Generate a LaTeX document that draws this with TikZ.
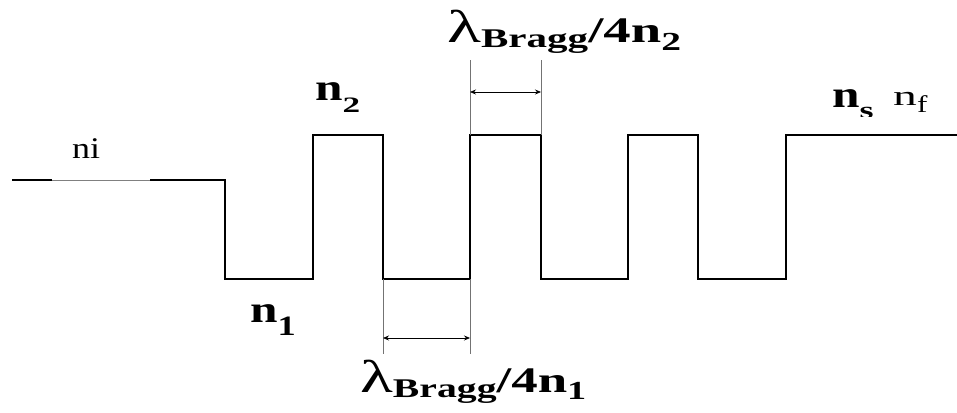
\documentclass[tikz,border=0pt]{standalone}
\usepackage{fontspec}
\usepackage{graphicx}
\setmainfont{Liberation Serif}
\usetikzlibrary{arrows.meta,positioning}

% wide letters of the original
\newcommand\sx[2]{\scalebox{#1}[1]{#2}}

\begin{document}
\begin{tikzpicture}[
  x=1pt,y=-1pt,
  profile/.style={line width=2.6pt, line join=miter, black},
  guide/.style={black!55, line width=0.8pt},
  dim/.style={{Stealth[length=6pt,width=5pt]}-{Stealth[length=6pt,width=5pt]}, line width=0.7pt},
  lbl/.style={anchor=base west, inner sep=0pt},
]
\useasboundingbox (0,0) rectangle (957,412);

% ---------------- index levels ----------------
\def\yi{180}   % incident medium
\def\yl{279}   % low index n1
\def\yh{135}   % high index n2

% ---------------- profile corners ----------------
\coordinate (a0) at (12,\yi);
\coordinate (g1) at (52,\yi);
\coordinate (g2) at (150,\yi);
\coordinate (a1) at (225,\yi);
\coordinate (b1) at (225,\yl);
\coordinate (b2) at (313,\yl);
\coordinate (c1) at (313,\yh);
\coordinate (c2) at (383,\yh);
\coordinate (d1) at (383,\yl);
\coordinate (d2) at (470,\yl);
\coordinate (e1) at (470,\yh);
\coordinate (e2) at (541,\yh);
\coordinate (f1) at (541,\yl);
\coordinate (f2) at (628,\yl);
\coordinate (h1) at (628,\yh);
\coordinate (h2) at (698,\yh);
\coordinate (k1) at (698,\yl);
\coordinate (k2) at (786,\yl);
\coordinate (m1) at (786,\yh);
\coordinate (m2) at (957,\yh);

% thin gap under the ni label
\draw[profile] (a0) -- (g1);
\draw[black!50, line width=0.8pt] (g1) -- (g2);
\draw[profile] (g2) -- (a1) -- (b1) -- (b2) -- (c1) -- (c2) -- (d1) -- (d2)
  -- (e1) -- (e2) -- (f1) -- (f2) -- (h1) -- (h2) -- (k1) -- (k2) -- (m1) -- (m2);

% ---------------- dimension lines ----------------
\coordinate (t1) at (470,60);
\coordinate (t2) at (541,60);
\draw[guide] (t1) -- (e1);
\draw[guide] (t2) -- (e2);
\coordinate (ta) at (470,92);
\coordinate (tb) at (541,92);
\draw[dim] (ta) -- (tb);

\coordinate (u1) at (383,354);
\coordinate (u2) at (470,354);
\draw[guide] (d1) -- (u1);
\draw[guide] (d2) -- (u2);
\coordinate (ua) at (383,338);
\coordinate (ub) at (470,338);
\draw[dim] (ua) -- (ub);

% ---------------- labels ----------------
\node[lbl] (ni) at (72,158) {\sx{1.2}{\fontsize{30}{32}\selectfont ni}};
\node[lbl] (n2) at (315,100)
  {\sx{1.3}{\fontsize{38}{40}\selectfont\bfseries n}\raisebox{-12pt}{\sx{1.6}{\fontsize{22}{24}\selectfont\bfseries 2}}};
\node[lbl] (n1) at (250,322)
  {\sx{1.3}{\fontsize{38}{40}\selectfont\bfseries n}\raisebox{-13pt}{\sx{1.3}{\fontsize{28}{30}\selectfont\bfseries 1}}};
\node[lbl] (lam2) at (447,43)
  {\sx{1.52}{\fontsize{36}{38}\selectfont\bfseries{\fontsize{46}{48}\selectfont\mdseries λ}\raisebox{-5pt}{\fontsize{27}{29}\selectfont Bragg}/4n\raisebox{-7pt}{\fontsize{26}{28}\selectfont 2}}};
\node[lbl] (lam1) at (360,392)
  {\sx{1.47}{\fontsize{36}{38}\selectfont\bfseries{\fontsize{46}{48}\selectfont\mdseries λ}\raisebox{-5pt}{\fontsize{27}{29}\selectfont Bragg}/4n\raisebox{-7pt}{\fontsize{26}{28}\selectfont 1}}};
\begin{scope}
  \clip (820,60) rectangle (885,116);
  \node[lbl] (ns) at (832,107)
    {\sx{1.3}{\fontsize{38}{40}\selectfont\bfseries n}\raisebox{-11pt}{\sx{1.5}{\fontsize{24}{26}\selectfont\bfseries s}}};
\end{scope}
\node[lbl] (nf) at (893,105)
  {\sx{1.7}{\fontsize{28}{30}\selectfont n}\raisebox{-7pt}{\sx{1.3}{\fontsize{24}{26}\selectfont f}}};

\end{tikzpicture}
\end{document}
